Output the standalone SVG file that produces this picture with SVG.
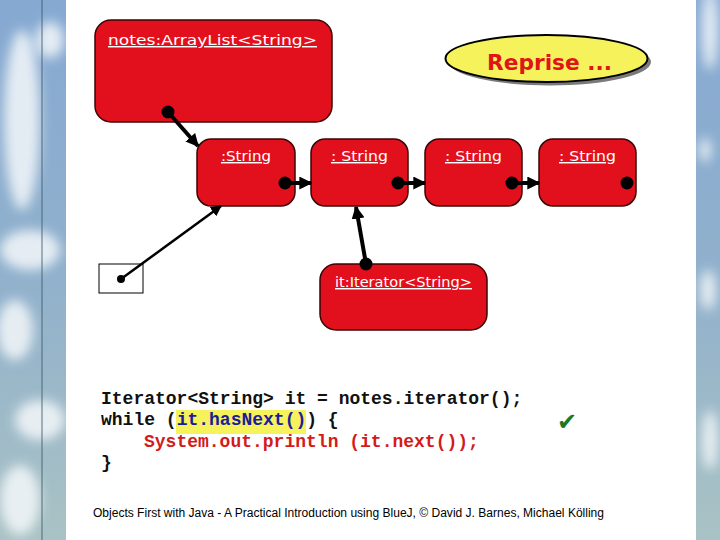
<svg xmlns="http://www.w3.org/2000/svg" width="720" height="540" viewBox="0 0 720 540">
<defs>
<linearGradient id="bg" x1="0" y1="0" x2="0" y2="1">
<stop offset="0" stop-color="#86a9d2"/>
<stop offset="0.5" stop-color="#90b0cc"/>
<stop offset="1" stop-color="#a9c2c4"/>
</linearGradient>
<filter id="blur" x="-50%" y="-50%" width="200%" height="200%"><feGaussianBlur stdDeviation="6"/></filter>
<marker id="ah" viewBox="0 0 10 10" refX="9" refY="5" markerWidth="13" markerHeight="13" markerUnits="userSpaceOnUse" orient="auto">
<path d="M0,0 L10,5 L0,10 Z" fill="#000"/>
</marker>
<marker id="ahs" viewBox="0 0 10 10" refX="9" refY="5" markerWidth="11" markerHeight="11" markerUnits="userSpaceOnUse" orient="auto">
<path d="M0,0 L10,5 L0,10 Z" fill="#000"/>
</marker>
</defs>
<style>
.obj{fill:#e2101d;stroke:#3a0505;stroke-width:1.5}
.lbl{font-family:"DejaVu Sans",Verdana,sans-serif;font-size:14.5px;fill:#fff;text-decoration:underline}
.dot{fill:#000}
.con{stroke:#000;fill:none}
.code{font-family:"Liberation Mono","Courier New",monospace;font-weight:bold;font-size:18px}
</style>
<!-- background -->
<rect x="0" y="0" width="720" height="540" fill="url(#bg)"/>
<g filter="url(#blur)" fill="#f4f8fa" opacity="0.85">
<ellipse cx="22" cy="120" rx="18" ry="90"/>
<ellipse cx="50" cy="40" rx="14" ry="18"/>
<ellipse cx="30" cy="250" rx="30" ry="20"/>
<ellipse cx="15" cy="330" rx="18" ry="30"/>
<ellipse cx="40" cy="420" rx="25" ry="20"/>
<ellipse cx="20" cy="500" rx="20" ry="35"/>
<ellipse cx="710" cy="30" rx="8" ry="40"/>
<ellipse cx="705" cy="150" rx="6" ry="12"/>
<ellipse cx="708" cy="290" rx="8" ry="20"/>
<ellipse cx="710" cy="440" rx="8" ry="30"/>
</g>
<line x1="42" y1="0" x2="42" y2="540" stroke="#3a5a6a" stroke-width="1.2" opacity="0.7"/>
<rect x="66" y="0" width="630" height="540" fill="#fff"/>

<!-- Reprise ellipse -->
<g id="reprise">
<ellipse cx="550" cy="62" rx="101" ry="23.5" fill="#7a7a7a"/>
<ellipse cx="546.5" cy="58.5" rx="101" ry="23.5" fill="#f6f25c" stroke="#000" stroke-width="2"/>
<text x="487" y="70" font-family="'DejaVu Sans',sans-serif" font-weight="bold" font-size="21" fill="#e01515" textLength="125" lengthAdjust="spacingAndGlyphs">Reprise ...</text>
</g>

<g id="notes">
<rect class="obj" x="95" y="20" width="237" height="102" rx="16"/>
<text class="lbl" x="108" y="45" textLength="209" lengthAdjust="spacingAndGlyphs">notes:ArrayList&lt;String&gt;</text>
</g>
<g id="s1">
<rect class="obj" x="197" y="139" width="98" height="67" rx="14"/>
<text class="lbl" x="221" y="161" textLength="50" lengthAdjust="spacingAndGlyphs">:String</text>
</g>
<g id="s2">
<rect class="obj" x="311" y="139" width="97" height="67" rx="14"/>
<text class="lbl" x="331" y="161" textLength="57" lengthAdjust="spacingAndGlyphs">: String</text>
</g>
<g id="s3">
<rect class="obj" x="425" y="139" width="97" height="67" rx="14"/>
<text class="lbl" x="445" y="161" textLength="57" lengthAdjust="spacingAndGlyphs">: String</text>
</g>
<g id="s4">
<rect class="obj" x="539" y="139" width="97" height="67" rx="14"/>
<text class="lbl" x="559" y="161" textLength="57" lengthAdjust="spacingAndGlyphs">: String</text>
</g>
<g id="it">
<rect class="obj" x="320" y="264" width="167" height="66" rx="16"/>
<text class="lbl" x="335" y="287" textLength="137" lengthAdjust="spacingAndGlyphs">it:Iterator&lt;String&gt;</text>
</g>
<g id="var">
<rect x="99" y="264" width="44" height="29" fill="#fff" stroke="#000" stroke-width="1"/>
</g>

<g id="connectors">
<line class="con" x1="168" y1="112" x2="198" y2="146" stroke-width="4" marker-end="url(#ah)"/>
<line class="con" x1="285" y1="183" x2="311" y2="183" stroke-width="4" marker-end="url(#ah)"/>
<line class="con" x1="398" y1="183" x2="425" y2="183" stroke-width="4" marker-end="url(#ah)"/>
<line class="con" x1="512" y1="183" x2="539" y2="183" stroke-width="4" marker-end="url(#ah)"/>
<line class="con" x1="366" y1="264" x2="356" y2="207" stroke-width="4" marker-end="url(#ah)"/>
<line class="con" x1="121" y1="279" x2="221" y2="206" stroke-width="2.5" marker-end="url(#ahs)"/>
<circle class="dot" cx="168" cy="112" r="6.5"/>
<circle class="dot" cx="285" cy="183" r="6.5"/>
<circle class="dot" cx="398" cy="183" r="6.5"/>
<circle class="dot" cx="512" cy="183" r="6.5"/>
<circle class="dot" cx="627" cy="183" r="6.5"/>
<circle class="dot" cx="366" cy="264" r="6.5"/>
<circle class="dot" cx="121" cy="279" r="4"/>
</g>

<!-- code -->
<rect x="176" y="410" width="130" height="24" fill="#f6f25c"/>
<text class="code" x="101" y="404" fill="#111">Iterator&lt;String&gt; it = notes.iterator();</text>
<text class="code" x="101" y="425" fill="#111">while (<tspan fill="#1c1c9a">it.hasNext()</tspan>) {</text>
<text class="code" x="144" y="447" fill="#d41a1a">System.out.println (it.next());</text>
<text class="code" x="101" y="468" fill="#111">}</text>
<text x="557" y="430" font-family="'DejaVu Sans',sans-serif" font-size="24" fill="#1d7a22">✔</text>

<text x="93" y="517" font-family="'Liberation Sans',Arial,sans-serif" font-size="12" fill="#000" textLength="511" lengthAdjust="spacingAndGlyphs">Objects First with Java - A Practical Introduction using BlueJ, © David J. Barnes, Michael Kölling</text>
</svg>
